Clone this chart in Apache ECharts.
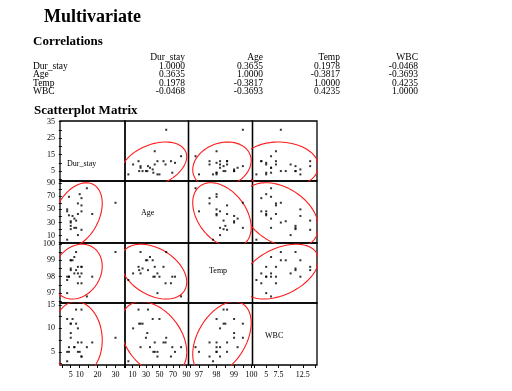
<!DOCTYPE html>
<html><head><meta charset="utf-8">
<script src="https://cdn.jsdelivr.net/npm/echarts@6/dist/echarts.min.js"></script>
<style>html,body{margin:0;padding:0;background:#fff}#c{width:512px;height:391px}</style>
</head><body><div id="c"></div>
<script>
// ---- data ----
const varNames = ['Dur_stay', 'Age', 'Temp', 'WBC'];
const durStay = [5,10,6,11,5,14,30,11,17,3,9,3,8,8,5,5,7,4,3,7,9,11,11,9,4];
const age     = [30,73,40,47,25,82,60,56,43,50,59,4,22,33,20,32,36,69,47,22,11,19,67,43,41];
const temp    = [99.0,98.0,99.0,98.2,98.5,96.8,99.5,98.6,98.0,98.0,97.6,97.8,99.5,98.4,98.4,99.0,99.2,98.0,97.0,98.2,98.2,98.6,97.6,98.6,98.0];
const wbc     = [8,5,12,4,11,6,8,7,7,12,7,3,11,14,11,9,6,6,5,6,10,14,4,5,5];

const corrDurStay = [1.0000, 0.3635, 0.1978, -0.0468];
const corrAge     = [0.3635, 1.0000, -0.3817, -0.3693];
const corrTemp    = [0.1978, -0.3817, 1.0000, 0.4235];
const corrWBC     = [-0.0468, -0.3693, 0.4235, 1.0000];

// axis ranges and ticks
const durRange  = [-1, 35.3];
const ageRange  = [-1, 93];
const tempRange = [96.4, 100.05];
const wbcRange  = [2.2, 15.4];
const durTicks   = [0,5,10,15,20,25,30,35];
const durYLabels = [5,15,25,35];
const durXLabels = [5,10,20,30];
const ageTicks   = [0,10,20,30,40,50,60,70,80,90];
const ageLabels  = [10,30,50,70,90];
const tempTicks  = [96.5,97,97.5,98,98.5,99,99.5,100];
const tempLabels = [97,98,99,100];
const wbcTicks   = [2.5,5,7.5,10,12.5,15];
const wbcYLabels = [5,10,15];
const wbcXLabels = [5,7.5,12.5];

// ---- layout ----
const colX = [60, 125, 188.5, 252.5, 317];
const rowY = [121, 181, 243, 303, 365];
const diagLabelPos = [[67,164],[141,213],[209,271],[265,336]];
const serif = 'Liberation Serif, Times New Roman, serif';

const vars = [durStay, age, temp, wbc];
const ranges = [durRange, ageRange, tempRange, wbcRange];
const ticks = [durTicks, ageTicks, tempTicks, wbcTicks];
const yLabels = [durYLabels, ageLabels, tempLabels, wbcYLabels];
const xLabels = [durXLabels, ageLabels, tempLabels, wbcXLabels];
const corrRows = [corrDurStay, corrAge, corrTemp, corrWBC];

function ellipse(xs, ys) {
  const n = xs.length;
  const mx = xs.reduce((a,b)=>a+b,0)/n, my = ys.reduce((a,b)=>a+b,0)/n;
  let sxx=0, syy=0, sxy=0;
  for (let i=0;i<n;i++){ sxx+=(xs[i]-mx)**2; syy+=(ys[i]-my)**2; sxy+=(xs[i]-mx)*(ys[i]-my); }
  sxx/=(n-1); syy/=(n-1); sxy/=(n-1);
  const r = Math.sqrt(5.991);
  const a = Math.sqrt(sxx), b = sxy/a, c = Math.sqrt(Math.max(syy - b*b, 0));
  const pts = [];
  for (let k=0;k<=160;k++){
    const t = 2*Math.PI*k/160;
    pts.push([mx + r*a*Math.cos(t), my + r*(b*Math.cos(t) + c*Math.sin(t))]);
  }
  return pts;
}

const grids=[], xAxes=[], yAxes=[], series=[];
const labelStyle = {color:'#000', fontFamily: serif, fontSize: 8};
for (let r=0;r<4;r++){
  for (let c=0;c<4;c++){
    const idx = r*4+c;
    grids.push({left: colX[c], top: rowY[r], width: colX[c+1]-colX[c], height: rowY[r+1]-rowY[r],
      show: true, borderColor: '#000', borderWidth: 1.3, backgroundColor: 'transparent', containLabel: false});
    xAxes.push({type:'value', gridIndex: idx, min: ranges[c][0], max: ranges[c][1],
      axisLine:{show:false}, splitLine:{show:false},
      axisTick:{show: r===3, customValues: ticks[c], length: 3, lineStyle:{color:'#000', width:1}},
      axisLabel: Object.assign({show: r===3, customValues: xLabels[c], margin: 6, formatter: v => String(v)}, labelStyle)});
    yAxes.push({type:'value', gridIndex: idx, min: ranges[r][0], max: ranges[r][1],
      axisLine:{show:false}, splitLine:{show:false},
      axisTick:{show: c===0, customValues: ticks[r], length: 3, lineStyle:{color:'#000', width:1}},
      axisLabel: Object.assign({show: c===0, customValues: yLabels[r], margin: 5, formatter: v => String(v)}, labelStyle)});
    if (r !== c) {
      const pts = vars[c].map((v,i)=>[v, vars[r][i]]);
      series.push({type:'scatter', xAxisIndex: idx, yAxisIndex: idx, data: pts,
        symbol:'rect', symbolSize: 2, itemStyle:{color:'#000'}, silent:true, z:3});
      series.push({type:'line', xAxisIndex: idx, yAxisIndex: idx, data: ellipse(vars[c], vars[r]),
        showSymbol:false, symbol:'none', smooth:false, clip:true, silent:true,
        lineStyle:{color:'#ff1a1a', width:1.1}, z:2});
    }
  }
}

const graphics = [];
graphics.push({type:'text', x: 44, y: 17.5, style:{text:'Multivariate', fill:'#000', font:'bold 18px '+serif, textVerticalAlign:'middle'}});
graphics.push({type:'text', x: 33, y: 42, style:{text:'Correlations', fill:'#000', font:'bold 13px '+serif, textVerticalAlign:'middle'}});
graphics.push({type:'text', x: 34, y: 111, style:{text:'Scatterplot Matrix', fill:'#000', font:'bold 13px '+serif, textVerticalAlign:'middle'}});
graphics.push({type:'text', x: 34, y: 397, style:{text:'Pairwise Correlations', fill:'#000', font:'bold 13px '+serif, textVerticalAlign:'middle'}});
// correlation table
const colRight = [185, 263, 340, 418];
const tableRowY = [57, 66, 74.7, 83, 91.5];
const tableFont = '9.5px ' + serif;
varNames.forEach((nm, j) => {
  graphics.push({type:'text', x: colRight[j], y: tableRowY[0], style:{text: nm, fill:'#000', font: tableFont, textAlign:'right', textVerticalAlign:'middle'}});
});
corrRows.forEach((row, i) => {
  graphics.push({type:'text', x: 33, y: tableRowY[i+1], style:{text: varNames[i], fill:'#000', font: tableFont, textVerticalAlign:'middle'}});
  row.forEach((v, j) => {
    graphics.push({type:'text', x: colRight[j], y: tableRowY[i+1], style:{text: v.toFixed(4), fill:'#000', font: tableFont, textAlign:'right', textVerticalAlign:'middle'}});
  });
});
// diagonal labels
varNames.forEach((nm, i) => {
  graphics.push({type:'text', x: diagLabelPos[i][0], y: diagLabelPos[i][1], style:{text: nm, fill:'#000', font: '8px '+serif, textVerticalAlign:'middle'}});
});

const chart = echarts.init(document.getElementById('c'), null, {renderer:'canvas'});
chart.setOption({
  animation: false,
  backgroundColor: '#fff',
  grid: grids, xAxis: xAxes, yAxis: yAxes, series: series,
  graphic: graphics
});
</script></body></html>
